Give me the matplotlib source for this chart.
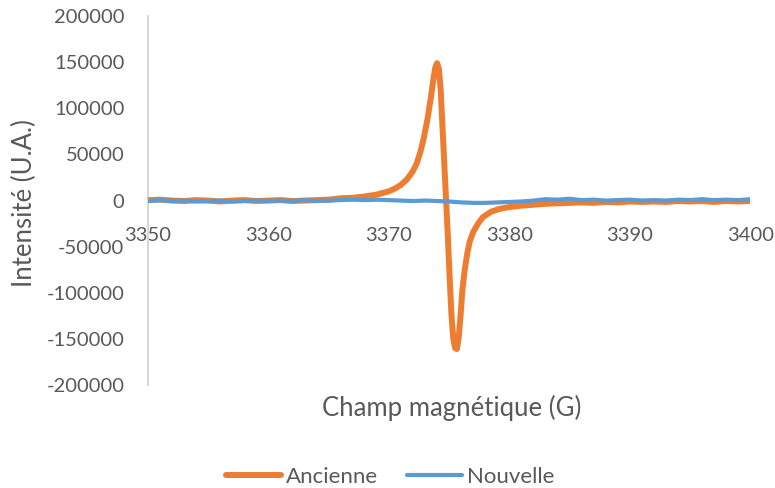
import matplotlib
matplotlib.use('Agg')
import numpy as np
from matplotlib import pyplot as plt

# champ (G) / intensite (U.A.)
x_anc = [3350, 3351, 3352, 3353, 3354, 3355, 3356, 3357, 3358, 3359,
         3360, 3361, 3362, 3363, 3364, 3365, 3366, 3367, 3368, 3369,
         3370, 3370.5, 3371, 3371.5, 3372, 3372.3, 3372.6, 3372.9, 3373.2, 3373.5,
         3373.7, 3373.85, 3374.0, 3374.15, 3374.3, 3374.45, 3374.6, 3374.75, 3374.9, 3375.05,
         3375.2, 3375.35, 3375.5, 3375.65, 3375.8, 3375.95, 3376.1, 3376.3, 3376.5, 3376.7,
         3377.0, 3377.4, 3377.8, 3378.5, 3379.2, 3380, 3381, 3382, 3383,
         3384, 3385, 3386, 3387, 3388, 3389, 3390, 3391, 3392, 3393,
         3394, 3395, 3396, 3397, 3398, 3399, 3400]
y_anc = [500, 1000, 0, -500, 500, 0, -1000, 0, 500, -500,
         0, 500, -500, 0, 500, 1000, 2500, 3000, 4500, 6500,
         10000, 13000, 17000, 23000, 32000, 40000, 52000, 68000, 88000, 113000,
         132000, 144000, 149000, 143000, 120000, 80000, 40000, 0, -40000, -85000,
         -125000, -150000, -160000, -161000, -148000, -125000, -97000, -75000, -58000, -45000,
         -34000, -25000, -18000, -12000, -9000, -7000, -5500, -4500, -3500,
         -3000, -2500, -2000, -2500, -1500, -2000, -1000, -1500, -1000, -1500,
         -500, -1000, -500, -1500, -500, -1000, -500]

x_nouv = [3350, 3351, 3352, 3353, 3354, 3355, 3356, 3357, 3358, 3359,
          3360, 3361, 3362, 3363, 3364, 3365, 3366, 3367, 3368, 3369,
          3370, 3371, 3372, 3373, 3374, 3375, 3376, 3377, 3378, 3379,
          3380, 3381, 3382, 3383, 3384, 3385, 3386, 3387, 3388, 3389,
          3390, 3391, 3392, 3393, 3394, 3395, 3396, 3397, 3398, 3399, 3400]
y_nouv = [-500, 500, -500, 0, -1000, -500, 0, -1000, -500, 0,
          -500, 0, -500, 500, -500, 0, 500, 1000, 500, 1000,
          500, 0, -500, 0, -500, -1000, -2000, -2500, -2500, -2000,
          -1500, -1000, 0, 1500, 1000, 2000, 500, 1000, 0, 500,
          1000, 0, 500, 0, 1000, 500, 1500, 500, 1000, 500, 1500]

y_ticks = [-200000, -150000, -100000, -50000, 0, 50000, 100000, 150000, 200000]
x_ticks = [3350, 3360, 3370, 3380, 3390, 3400]

plt.rcParams['font.family'] = ['Lato', 'DejaVu Sans']
txt = '#595959'

fig = plt.figure(figsize=(7.75, 4.88), dpi=100)
ax = fig.add_axes([0.191, 0.211, 0.777, 0.756])

l1, = ax.plot(x_anc, y_anc, color='#ED7D31', lw=4.3, label='Ancienne',
              solid_capstyle='round', solid_joinstyle='round', zorder=3)
l2, = ax.plot(x_nouv, y_nouv, color='#5B9BD5', lw=3.0, label='Nouvelle',
              solid_capstyle='round', solid_joinstyle='round', zorder=4)

ax.set_xlim(3350, 3400)
ax.set_ylim(-200000, 200000)
ax.set_xticks(x_ticks)
ax.set_yticks(y_ticks)
ax.set_yticklabels([str(v) for v in y_ticks])

for s in ['top', 'right']:
    ax.spines[s].set_visible(False)
ax.spines['bottom'].set_position(('data', 0))
ax.spines['bottom'].set_color('#D9D9D9')
ax.spines['left'].set_color('#D0D0D0')
ax.spines['left'].set_linewidth(1.2)
ax.tick_params(axis='both', length=0, labelsize=14.5, colors=txt)
ax.tick_params(axis='y', pad=17)
ax.tick_params(axis='x', pad=19)

fig.text(0.032, 0.583, 'Intensité (U.A.)', rotation=90, ha='center', va='center',
         fontsize=18.5, color=txt)
fig.text(0.583, 0.164, 'Champ magnétique (G)', ha='center', va='center',
         fontsize=18.5, color=txt)

fig.legend(handles=[l1, l2], loc='center', bbox_to_anchor=(0.503, 0.022), ncol=2,
           frameon=False, fontsize=16, labelcolor=txt, handlelength=2.5,
           handletextpad=0.2, columnspacing=1.3)

fig.savefig('out.png', dpi=100)
